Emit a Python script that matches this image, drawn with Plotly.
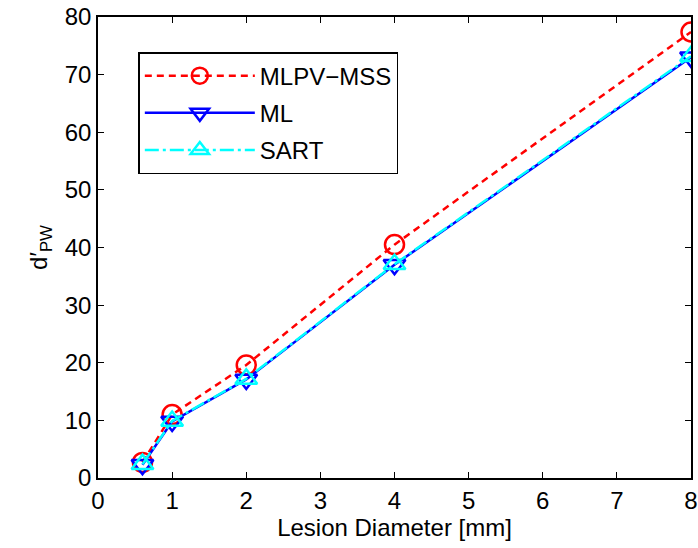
import plotly.graph_objects as go

# Lesion diameters (mm) and detectability index for each reconstruction method
diameter = [0.6, 1, 2, 4, 8]
mlpv_mss = [2.7, 11.0, 19.6, 40.5, 77.4]
ml = [2.3, 9.8, 17.1, 37.0, 73.0]
sart = [2.4, 9.9, 17.2, 37.1, 73.2]

x_ticks = [0, 1, 2, 3, 4, 5, 6, 7, 8]
y_ticks = [0, 10, 20, 30, 40, 50, 60, 70, 80]

FONT = "Liberation Sans, Arial, sans-serif"
FS = 24

fig = go.Figure()
fig.add_trace(go.Scatter(
    x=diameter, y=mlpv_mss, name="MLPV\u2212MSS", mode="lines+markers",
    legendgroup="g1",
    line=dict(color="#ff0000", width=2.5, dash="7px,5px"),
    marker=dict(symbol="circle-open", size=19, color="#ff0000",
                line=dict(width=2.5, color="#ff0000")),
))
fig.add_trace(go.Scatter(
    x=diameter, y=ml, name="ML", mode="lines+markers",
    legendgroup="g2",
    line=dict(color="#0000ff", width=2.5, dash="solid"),
    marker=dict(symbol="triangle-down-open", size=19, color="#0000ff",
                line=dict(width=2.5, color="#0000ff")),
))
fig.add_trace(go.Scatter(
    x=diameter, y=sart, name="SART", mode="lines+markers",
    legendgroup="g3",
    line=dict(color="#00ffff", width=2.5, dash="14px,4px,3px,4px"),
    marker=dict(symbol="triangle-up-open", size=19, color="#00ffff",
                line=dict(width=2.5, color="#00ffff")),
))

axis_common = dict(
    showline=True, linecolor="black", linewidth=1.5, mirror="ticks",
    ticks="inside", ticklen=6, tickcolor="black", tickwidth=1,
    showgrid=False, zeroline=False, automargin=False,
    tickfont=dict(family=FONT, size=FS, color="black"),
)

fig.update_layout(
    width=698, height=548,
    margin=dict(l=98, r=7, t=17, b=70),
    paper_bgcolor="white", plot_bgcolor="white",
    font=dict(family=FONT, color="black", size=FS),
    xaxis=dict(range=[0, 8], tickvals=x_ticks,
               title=dict(text="Lesion Diameter [mm]", font=dict(size=FS), standoff=4),
               **axis_common),
    yaxis=dict(range=[0, 80], tickvals=y_ticks,
               title=dict(text="d\u2032<sub>PW</sub>", font=dict(size=FS), standoff=10),
               **axis_common),
    legend=dict(x=0.068, y=0.924, xanchor="left", yanchor="top",
                bordercolor="black", borderwidth=1.5, bgcolor="white",
                font=dict(family=FONT, size=FS, color="black"),
                traceorder="grouped", itemwidth=110, tracegroupgap=3),
    showlegend=True,
)

fig.write_html("out.html")
